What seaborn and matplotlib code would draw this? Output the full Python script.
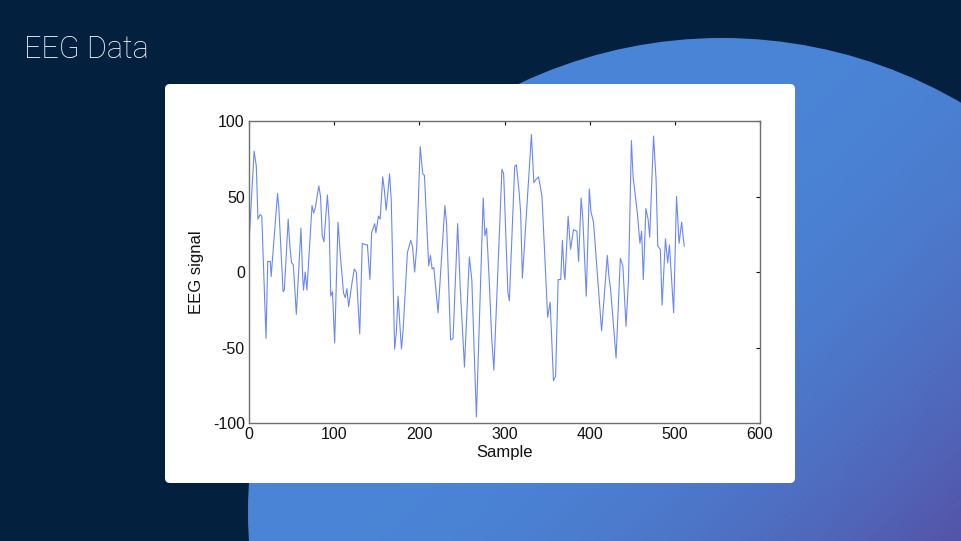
import numpy as np
import pandas as pd
import matplotlib
matplotlib.use("Agg")
import matplotlib.pyplot as plt
import seaborn as sns
from matplotlib.patches import Circle, FancyBboxPatch

# EEG trace (sample index, signal value)
samples = [0, 6, 8.6, 10.5, 13, 15, 20, 22, 25, 26, 33.5, 35, 40, 41.5, 46, 48, 50, 52,
           55.6, 61, 63, 64, 66, 68, 74, 76, 78, 82, 84, 86, 88, 92, 94, 96, 98, 100.6,
           104.5, 107, 111, 113, 115, 117, 121, 123.6, 126, 130, 133, 137, 139, 142, 144,
           147.6, 149, 152, 154, 157, 159, 161, 163, 165, 167, 171, 173, 175, 179, 181,
           186, 190, 192, 194.5, 197, 201, 204, 206, 211, 213, 215, 217, 222, 230, 232,
           236.7, 239.6, 245, 248, 253, 258.7, 261.6, 267, 275, 277, 279, 282, 285, 287.5,
           297, 299, 304, 305.7, 312, 314, 317, 319, 321, 331.6, 334.5, 336.5, 340, 344,
           350.7, 353.6, 357.5, 360, 363, 366, 368, 370, 371, 374.7, 377.6, 381, 385, 387,
           390, 392, 396, 399.6, 401.5, 404.5, 414, 420.7, 422.6, 424.5, 431, 436, 439,
           442.7, 445.6, 449, 451, 456, 459, 461, 463, 466, 468.6, 470.5, 475, 478, 480,
           483, 485, 489, 491.6, 493.7, 498.6, 502, 505, 508, 511]
signal = [19, 80, 70, 35, 38, 37, -44, 7, 7, -3, 52, 43, -13, -12, 35, 17, 6, 5,
          -28, 29, -3, -12, 0, -12, 44, 39, 43, 57, 50, 24, 20, 51, 35, -16, -13, -47,
          33, 13, -14, -17, -11, -23, -7, 2, 0, -41, 19, 18, 18, -5, 26,
          32, 26, 37, 35, 63, 54, 41, 52, 65, 48, -51, -40, -16, -51, -38,
          13, 21, 17, 0, 17, 83, 65, 64, 4, 11, 2, 3, -27, 44, 32,
          -45, -44, 32, -10, -63, 10, -5, -96, 49, 24, 29, -5, -44, -65,
          68, 65, -14, -19, 70, 71, 54, 39, -4, 91, 59, 61, 63, 50,
          -30, -20, -72, -69, -5, -5, 21, -1, -5, 37, 15, 28, 27, 7,
          49, 35, -16, 55, 40, 33, -39, 11, -3, -11, -57, 9, 4,
          -36, -5, 87, 63, 39, 19, 27, -5, 42, 35, 23, 90, 61, 17,
          15, -22, 22, 6, 18, -27, 50, 19, 33, 17]

x_ticks = [0, 100, 200, 300, 400, 500, 600]
y_ticks = [-100, -50, 0, 50, 100]

df = pd.DataFrame({"Sample": samples, "EEG signal": signal})

sns.set_theme(style="white")
plt.rcParams["font.family"] = ["Liberation Sans", "DejaVu Sans"]
plt.rcParams["axes.unicode_minus"] = False

W, H = 961, 541
fig = plt.figure(figsize=(W / 100, H / 100), dpi=100)
fig.patch.set_facecolor("#03203f")

# slide background: big blue circle + white panel
bg = fig.add_axes([0, 0, 1, 1])
bg.set_xlim(0, W)
bg.set_ylim(H, 0)
bg.axis("off")
bg.set_facecolor("#03203f")

gx, gy = np.meshgrid(np.linspace(0, W, 200), np.linspace(0, H, 120))
t = np.clip(((gx - 620) + (gy - 230)) / 650, 0, 1) ** 2
c0 = np.array([0.29, 0.52, 0.84])
c1 = np.array([0.33, 0.33, 0.66])
grad = c0 + (c1 - c0) * t[..., None]
img = bg.imshow(grad, extent=[0, W, H, 0], zorder=1, aspect="auto")
circ = Circle((722, 512), 474, transform=bg.transData, facecolor="none", edgecolor="none")
bg.add_patch(circ)
img.set_clip_path(circ)

panel = FancyBboxPatch((165, 84), 630, 399, boxstyle="round,pad=0,rounding_size=5",
                       facecolor="white", edgecolor="none", zorder=2)
bg.add_patch(panel)

fig.text(24, H - 50, "EEG Data", transform=None, color="white", fontsize=22,
         family=["Roboto", "DejaVu Sans"], fontweight="light", va="center", ha="left")

# the chart itself
ax = fig.add_axes([249 / W, 1 - 423 / H, (760 - 249) / W, (423 - 121) / H])
ax.set_facecolor("white")
sns.lineplot(data=df, x="Sample", y="EEG signal", ax=ax, color="#6a88f2", linewidth=0.8)

ax.set_xlim(0, 600)
ax.set_ylim(-100, 100)
ax.set_xticks(x_ticks)
ax.set_yticks(y_ticks)
ax.tick_params(direction="in", length=3, width=0.8, top=True, right=True,
               labelsize=11.5, colors="#111111", pad=3)
for s in ax.spines.values():
    s.set_color("#6e6e6e")
    s.set_linewidth(1.0)
ax.set_xlabel("Sample", fontsize=12, color="#111111", labelpad=2)
ax.set_ylabel("EEG signal", fontsize=12, color="#111111", labelpad=6)

fig.savefig("out.png", dpi=100, facecolor=fig.get_facecolor())
